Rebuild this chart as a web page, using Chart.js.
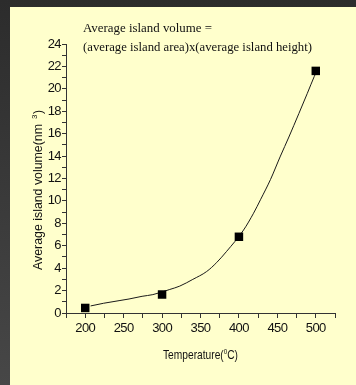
<!DOCTYPE html>
<html>
<head>
<meta charset="utf-8">
<script src="https://cdn.jsdelivr.net/npm/chart.js@4.4.0/dist/chart.umd.min.js"></script>
<style>
  html, body { margin: 0; padding: 0; }
  body {
    width: 356px;
    height: 385px;
    overflow: hidden;
    position: relative;
    background: linear-gradient(#2c2c2c, #474747);
  }
  #panel {
    position: absolute;
    left: 10px;
    top: 7px;
    width: 346px;
    height: 378px;
    background: #ffffcc;
  }
  #panel canvas { display: block; }
</style>
</head>
<body>
<div id="panel"><canvas id="volume-chart" width="346" height="378"></canvas></div>
<script>
// Measured islands
var temps = [200, 300, 400, 500];
var volumes = [0.45, 1.65, 6.8, 21.6];

// Fitted curve
var fitTemps = [207, 224, 244, 257, 274, 288, 310, 323, 340, 358, 371, 384, 406, 419, 428, 441, 454, 465, 478, 489, 498, 500];
var fitVolumes = [0.63, 0.87, 1.1, 1.25, 1.49, 1.64, 2.1, 2.4, 3.0, 3.7, 4.5, 5.5, 7.4, 8.9, 10.1, 11.9, 14.0, 15.7, 17.8, 19.6, 21.1, 21.4];

// Tick labels
var xTickLabels = [200, 250, 300, 350, 400, 450, 500];
var yTickLabels = [0, 2, 4, 6, 8, 10, 12, 14, 16, 18, 20, 22, 24];

var titleLines = ["Average island volume =", "(average island area)x(average island height)"];

function toPoints(xs, ys) {
  return xs.map(function (x, i) {
    return { x: x, y: ys[i] };
  });
}

// draw text squeezed to a given width
function fitText(ctx, text, x, y, width) {
  var w = ctx.measureText(text).width;
  ctx.save();
  ctx.translate(x, y);
  ctx.scale(width / w, 1);
  ctx.fillText(text, 0, 0);
  ctx.restore();
}

var textPlugin = {
  id: "figureText",
  beforeDraw: function (chart) {
    chart.ctx.letterSpacing = "-0.6px";
  },
  afterDraw: function (chart) {
    var ctx = chart.ctx;
    ctx.save();
    ctx.letterSpacing = "0px";
    ctx.fillStyle = "#111";
    ctx.textBaseline = "alphabetic";
    ctx.textAlign = "left";

    // title (panel offset is 10,7)
    ctx.font = "13.5px 'Liberation Serif', 'Times New Roman', serif";
    fitText(ctx, titleLines[0], 73, 25, 129);
    fitText(ctx, titleLines[1], 73, 44, 229);

    // x axis title
    var big = "13px 'Liberation Sans', Arial, sans-serif";
    var small = "8px 'Liberation Sans', Arial, sans-serif";
    ctx.font = big;
    var w1 = ctx.measureText("Temperature(").width;
    var w3 = ctx.measureText("C)").width;
    ctx.font = small;
    var w2 = ctx.measureText("0").width;
    var s = 75 / (w1 + w2 + w3);
    ctx.save();
    ctx.translate(153, 352);
    ctx.scale(s, 1);
    ctx.font = big;
    ctx.fillText("Temperature(", 0, 0);
    ctx.font = small;
    ctx.fillText("0", w1, -5);
    ctx.font = big;
    ctx.fillText("C)", w1 + w2, 0);
    ctx.restore();

    // y axis title
    ctx.save();
    ctx.translate(32, 263);
    ctx.rotate(-Math.PI / 2);
    ctx.font = "12px 'Liberation Sans', Arial, sans-serif";
    fitText(ctx, "Average island volume(nm", 0, 0, 146);
    ctx.font = "8px 'Liberation Sans', Arial, sans-serif";
    ctx.fillText("3", 151, -5);
    ctx.font = "12px 'Liberation Sans', Arial, sans-serif";
    ctx.fillText(")", 156, 0);
    ctx.restore();

    ctx.restore();
  },
};

function volumeChart() {
  new Chart(document.getElementById("volume-chart"), {
    type: "scatter",
    data: {
      datasets: [
        {
          data: toPoints(fitTemps, fitVolumes),
          showLine: true,
          borderColor: "#1a1a1a",
          borderWidth: 1,
          pointRadius: 0,
          cubicInterpolationMode: "monotone",
          order: 2,
        },
        {
          data: toPoints(temps, volumes),
          pointStyle: "rect",
          pointRadius: 6,
          backgroundColor: "#000",
          borderColor: "#000",
          borderWidth: 0,
          order: 1,
        },
      ],
    },
    options: {
      responsive: false,
      animation: false,
      devicePixelRatio: 1,
      layout: {
        padding: { left: 0, top: 37, right: 21, bottom: 0 },
      },
      plugins: {
        legend: { display: false },
        tooltip: { enabled: false },
      },
      scales: {
        x: {
          type: "linear",
          position: "bottom",
          min: 175,
          max: 525,
          afterFit: function (scale) {
            scale.height = 72;
          },
          ticks: {
            stepSize: 25,
            autoSkip: false,
            maxRotation: 0,
            padding: 3,
            color: "#111",
            font: { family: "'Liberation Sans', Arial, sans-serif", size: 13 },
            callback: function (v) {
              return xTickLabels.indexOf(v) >= 0 ? String(v) : "";
            },
          },
          grid: {
            drawOnChartArea: false,
            tickLength: 5,
            color: "#333",
          },
          border: { color: "#333", width: 1 },
        },
        y: {
          min: 0,
          max: 24,
          afterFit: function (scale) {
            scale.width = 56;
          },
          ticks: {
            stepSize: 1,
            autoSkip: false,
            padding: 1,
            color: "#111",
            font: { family: "'Liberation Sans', Arial, sans-serif", size: 13 },
            callback: function (v) {
              return yTickLabels.indexOf(v) >= 0 ? String(v) : "";
            },
          },
          grid: {
            drawOnChartArea: false,
            tickLength: 4,
            color: "#333",
          },
          border: { color: "#333", width: 1 },
        },
      },
    },
    plugins: [textPlugin],
  });
}

document.addEventListener("DOMContentLoaded", function () {
  volumeChart();
});
</script>
</body>
</html>
